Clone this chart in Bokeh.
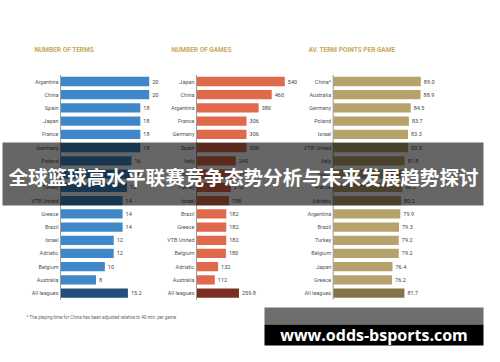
from bokeh.plotting import figure
from bokeh.models import Range1d, ColumnDataSource
from bokeh.core.properties import value
from bokeh.embed import file_html
from bokeh.resources import INLINE

# ---------------- data ----------------
terms_countries = ["Argentina", "China", "Spain", "Japan", "France", "Germany", "Poland", "Italy",
                   "Turkey", "VTB United", "Greece", "Brazil", "Israel", "Adriatic", "Belgium",
                   "Australia", "All leagues"]
terms_values = [20, 20, 18, 18, 18, 18, 16, 16, 15, 14, 14, 14, 12, 12, 10, 8, 15.2]
terms_labels = ["20", "20", "18", "18", "18", "18", "16", "16", "15", "14", "14", "14", "12", "12",
                "10", "8", "15.2"]

games_countries = ["Japan", "China", "Argentina", "France", "Germany", "Spain", "Italy", "Poland",
                   "Turkey", "Israel", "Brazil", "Greece", "VTB United", "Belgium", "Adriatic",
                   "Australia", "All leagues"]
games_values = [540, 460, 380, 306, 306, 306, 240, 240, 210, 198, 182, 182, 182, 180, 132, 112, 259.8]
games_labels = ["540", "460", "380", "306", "306", "306", "240", "240", "210", "198", "182", "182",
                "182", "180", "132", "112", "259.8"]

pts_countries = ["China*", "Australia", "Germany", "Poland", "Israel", "VTB United", "Italy", "Spain",
                 "France", "Adriatic", "Argentina", "Brazil", "Turkey", "Belgium", "Japan", "Greece",
                 "All leagues"]
pts_values = [89.0, 88.9, 84.5, 83.7, 83.3, 83.3, 81.8, 81.3, 80.8, 80.2, 79.9, 79.3, 79.2, 79.2,
              76.4, 76.2, 81.7]
pts_labels = ["89.0", "88.9", "84.5", "83.7", "83.3", "83.3", "81.8", "81.3", "80.8", "80.2", "79.9",
              "79.3", "79.2", "79.2", "76.4", "76.2", "81.7"]

panel_titles = ["NUMBER OF TERMS", "NUMBER OF GAMES", "AV. TERM POINTS PER GAME"]
footnote = "* The playing time for China has been adjusted relative to 40 min. per game"
banner_title = "全球篮球高水平联赛竞争态势分析与未来发展趋势探讨"
watermark = "www.odds-bsports.com"

# ---------------- layout ----------------
W, H = 484, 346
X0, X1 = 8, 8 + W      # page-pixel coordinates of the frame
Y0, Y1 = 8, 8 + H

p = figure(width=W, height=H, output_backend="svg", toolbar_location=None,
           x_range=Range1d(X0, X1), y_range=Range1d(Y1, Y0),
           x_axis_type=None, y_axis_type=None, min_border=0)
p.grid.visible = False
p.outline_line_color = None
p.background_fill_color = "white"
p.border_fill_color = "white"

# panel scales: (origin pixel, pixels per unit, value at origin)
def scale_range(origin_px, px_per_unit, base):
    return Range1d(base + (X0 - origin_px) / px_per_unit, base + (X1 - origin_px) / px_per_unit)

p.extra_x_ranges = {
    "terms": scale_range(68.0, 88.7 / 20, 0),
    "games": scale_range(204.0, 88.3 / 540, 0),
    "pts": scale_range(340.7, 87.6 / 39.0, 50),
}
row0_px, row_step = 89.0, 13.23
p.extra_y_ranges = {"rows": Range1d((Y1 - row0_px) / row_step, (Y0 - row0_px) / row_step)}

label_font = value("Roboto")
n = len(terms_countries)
rows = list(range(n))

panels = [
    ("terms", terms_countries, terms_values, terms_labels, 0, "#3f87c9", "#234f7c"),
    ("games", games_countries, games_values, games_labels, 0, "#e0694b", "#7d2e22"),
    ("pts", pts_countries, pts_values, pts_labels, 50, "#b6a36c", "#857449"),
]

for name, cats, vals, labs, base, col, col_all in panels:
    colors = [col] * (n - 1) + [col_all]
    src = ColumnDataSource(dict(y=rows, v=vals, base=[base] * n, c=colors, cat=cats, lab=labs))
    p.hbar(y="y", left="base", right="v", height=0.7, fill_color="c", line_color=None,
           source=src, x_range_name=name, y_range_name="rows")
    p.segment(x0=[base], x1=[base], y0=[-0.5], y1=[n - 0.5], line_color="#9a9a9a", line_width=1,
              x_range_name=name, y_range_name="rows")
    p.text(x="base", y="y", text="cat", source=src, x_range_name=name, y_range_name="rows",
           x_offset=-2, text_align="right", text_baseline="middle", text_font=label_font,
           text_font_size="5.5px", text_color="#555555")
    p.text(x="v", y="y", text="lab", source=src, x_range_name=name, y_range_name="rows",
           x_offset=3, text_align="left", text_baseline="middle", text_font=label_font,
           text_font_size="5.5px", text_color="#444444")

# panel titles
p.text(x=[42, 179, 316], y=[57, 57, 57], text=panel_titles, text_align="left",
       text_baseline="middle", text_font=label_font, text_font_style="bold",
       text_font_size="6.5px", text_color="#c9a95c")

# footnote
p.text(x=[34], y=[325], text=[footnote], text_align="left", text_baseline="middle",
       text_font=label_font, text_font_size="4.5px", text_color="#666666")

# dark banner with title
p.quad(left=[10], right=[491], top=[150], bottom=[213], fill_color="black", fill_alpha=0.6,
       line_color=None)
p.text(x=[251], y=[183.5], text=[banner_title], text_align="center", text_baseline="middle",
       text_font=value("Noto Sans CJK SC"), text_font_style="bold", text_font_size="19.6px",
       text_color="white")

# watermark box
p.quad(left=[272], right=[491], top=[315], bottom=[332], fill_color="#6e6e6e", line_color=None)
p.quad(left=[272], right=[491], top=[332], bottom=[353], fill_color="black", line_color=None)
p.text(x=[381.5], y=[342], text=[watermark], text_align="center", text_baseline="alphabetic",
       text_font=value("Open Sans"), text_font_style="bold", text_font_size="16px",
       text_color="white")

open("out.html", "w").write(file_html(p, INLINE))
